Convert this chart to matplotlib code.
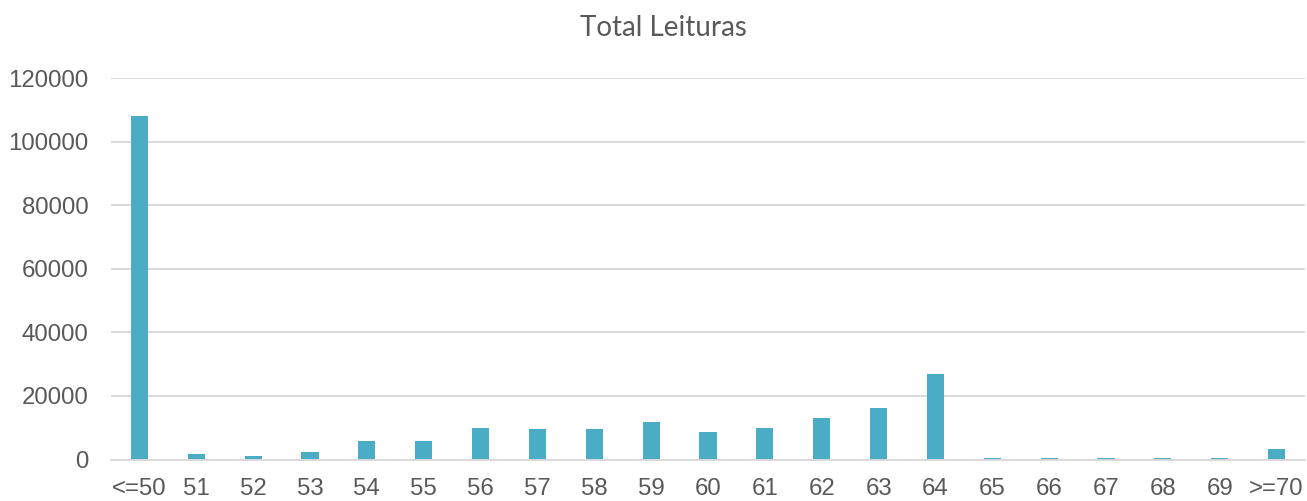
import numpy as np
import matplotlib.pyplot as plt

categories = ['<=50', '51', '52', '53', '54', '55', '56', '57', '58', '59', '60',
              '61', '62', '63', '64', '65', '66', '67', '68', '69', '>=70']
leituras = [108200, 1650, 1100, 2450, 5850, 5850, 9950, 9600, 9600, 11700, 8650,
            9950, 12950, 16200, 26850, 350, 350, 350, 350, 350, 3200]
y_ticks = [0, 20000, 40000, 60000, 80000, 100000, 120000]

bar_color = '#4BACC6'
text_color = '#595959'
grid_color = '#d9d9d9'

fig = plt.figure(figsize=(13.07, 5.01), dpi=100)
ax = fig.add_axes([111 / 1307, (501 - 459.5) / 501, 1194 / 1307, (459.5 - 78.3) / 501])

x = np.arange(len(categories))
ax.bar(x, leituras, width=0.3, color=bar_color, zorder=3)

ax.set_xlim(-0.5, len(categories) - 0.5)
ax.set_ylim(0, 120000)
ax.set_yticks(y_ticks)
ax.set_xticks(x)
ax.set_xticklabels(categories)

ax.grid(axis='y', color=grid_color, linewidth=1.4, zorder=0)
for s in ['top', 'right', 'left']:
    ax.spines[s].set_visible(False)
ax.spines['bottom'].set_color(grid_color)
ax.spines['bottom'].set_linewidth(1.4)
ax.spines['bottom'].set_zorder(4)

for lab in ax.get_xticklabels() + ax.get_yticklabels():
    lab.set_fontfamily('Liberation Sans')
    lab.set_fontsize(17.3)
    lab.set_color(text_color)
ax.tick_params(axis='x', length=0, pad=13)
ax.tick_params(axis='y', length=0, pad=16)

fig.text(663 / 1307, 1 - 28 / 501, 'Total Leituras', ha='center', va='center',
         fontsize=20, color=text_color, family='Lato')

fig.savefig('out.png', dpi=100)
